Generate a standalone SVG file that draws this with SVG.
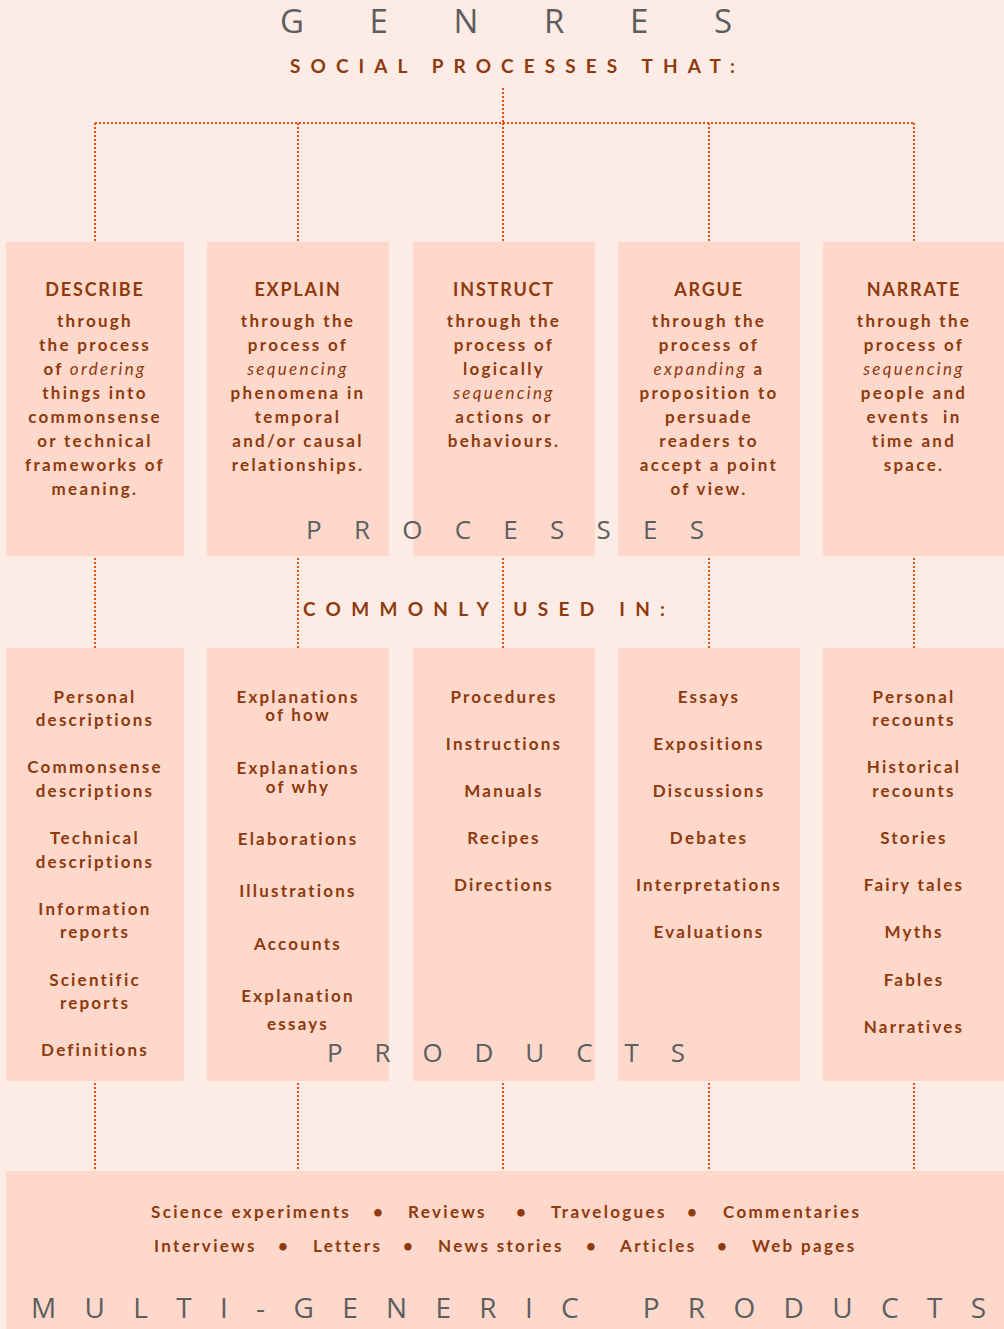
<svg xmlns="http://www.w3.org/2000/svg" width="1004" height="1329" viewBox="0 0 1004 1329">
  <style>
    .bg { fill: #fdebe5; }
    .box { fill: #fdd8cb; }
    .dot { fill: none; stroke: #f04a14; stroke-width: 2; stroke-dasharray: 2 2; }
    .head { font-family: Lato, "Open Sans", "DejaVu Sans", sans-serif; font-weight: 700; font-size: 18px; fill: #8e3a0d; text-anchor: middle; letter-spacing: 1.8px; }
    .body { font-family: Lato, "Open Sans", "DejaVu Sans", sans-serif; font-weight: 700; font-size: 17px; fill: #8e3a0d; text-anchor: middle; letter-spacing: 2.3px; }
    .it { font-style: italic; font-weight: 400; }
    .item { font-family: Lato, "Open Sans", "DejaVu Sans", sans-serif; font-weight: 700; font-size: 17px; fill: #8e3a0d; text-anchor: middle; letter-spacing: 2.2px; }
    .multi { font-family: Lato, "Open Sans", "DejaVu Sans", sans-serif; font-weight: 700; font-size: 17px; fill: #8e3a0d; letter-spacing: 2.35px; }
    .grey { font-family: "Open Sans", Lato, "DejaVu Sans", sans-serif; font-weight: 400; fill: #5e5e5e; }
    .spaced { font-family: Lato, "Open Sans", "DejaVu Sans", sans-serif; font-weight: 700; font-size: 19px; fill: #8e3a0d; }
  </style>

  <rect class="bg" x="0" y="0" width="1004" height="1329"/>

  <!-- headings -->
  <g id="title">
    <text class="grey" x="280" y="33" font-size="33" textLength="452" lengthAdjust="spacing">GENRES</text>
    <text class="spaced" x="290" y="73" textLength="445" lengthAdjust="spacing">SOCIAL PROCESSES THAT:</text>
  </g>

  <!-- connectors -->
  <g id="connectors">
    <path class="dot" d="M503 88 V123 M95 123 H914 M95 123 V242 M298 123 V242 M503 123 V242 M709 123 V242 M914 123 V242"/>
    <path class="dot" d="M95 558 V648 M298 558 V648 M503 558 V648 M709 558 V648 M914 558 V648"/>
    <path class="dot" d="M95 1083 V1171 M298 1083 V1171 M503 1083 V1171 M709 1083 V1171 M914 1083 V1171"/>
  </g>

  <!-- process boxes -->
  <g id="describe">
    <rect class="box" x="6" y="242" width="178" height="314"/>
    <text class="head" x="95" y="296">DESCRIBE</text>
    <text class="body" x="95" y="327">through</text>
    <text class="body" x="95" y="351">the process</text>
    <text class="body" x="95" y="375">of <tspan class="it">ordering</tspan></text>
    <text class="body" x="95" y="399">things into</text>
    <text class="body" x="95" y="423">commonsense</text>
    <text class="body" x="95" y="447">or technical</text>
    <text class="body" x="95" y="471">frameworks of</text>
    <text class="body" x="95" y="495">meaning.</text>
  </g>

  <g id="explain">
    <rect class="box" x="207" y="242" width="182" height="314"/>
    <text class="head" x="298" y="296">EXPLAIN</text>
    <text class="body" x="298" y="327">through the</text>
    <text class="body" x="298" y="351">process of</text>
    <text class="body it" x="298" y="375">sequencing</text>
    <text class="body" x="298" y="399">phenomena in</text>
    <text class="body" x="298" y="423">temporal</text>
    <text class="body" x="298" y="447">and/or causal</text>
    <text class="body" x="298" y="471">relationships.</text>
  </g>

  <g id="instruct">
    <rect class="box" x="413" y="242" width="182" height="314"/>
    <text class="head" x="504" y="296">INSTRUCT</text>
    <text class="body" x="504" y="327">through the</text>
    <text class="body" x="504" y="351">process of</text>
    <text class="body" x="504" y="375">logically</text>
    <text class="body it" x="504" y="399">sequencing</text>
    <text class="body" x="504" y="423">actions or</text>
    <text class="body" x="504" y="447">behaviours.</text>
  </g>

  <g id="argue">
    <rect class="box" x="618" y="242" width="182" height="314"/>
    <text class="head" x="709" y="296">ARGUE</text>
    <text class="body" x="709" y="327">through the</text>
    <text class="body" x="709" y="351">process of</text>
    <text class="body" x="709" y="375"><tspan class="it">expanding</tspan> a</text>
    <text class="body" x="709" y="399">proposition to</text>
    <text class="body" x="709" y="423">persuade</text>
    <text class="body" x="709" y="447">readers to</text>
    <text class="body" x="709" y="471">accept a point</text>
    <text class="body" x="709" y="495">of view.</text>
  </g>

  <g id="narrate">
    <rect class="box" x="823" y="242" width="181" height="314"/>
    <text class="head" x="914" y="296">NARRATE</text>
    <text class="body" x="914" y="327">through the</text>
    <text class="body" x="914" y="351">process of</text>
    <text class="body it" x="914" y="375">sequencing</text>
    <text class="body" x="914" y="399">people and</text>
    <text class="body" x="914" y="423" xml:space="preserve">events  in</text>
    <text class="body" x="914" y="447">time and</text>
    <text class="body" x="914" y="471">space.</text>
  </g>

  <g id="processes-label">
    <text class="grey" x="306" y="539" font-size="26" textLength="398" lengthAdjust="spacing">PROCESSES</text>
    <text class="spaced" x="303" y="616" textLength="362" lengthAdjust="spacing">COMMONLY USED IN:</text>
  </g>

  <!-- product boxes -->
  <g id="describe-products">
    <rect class="box" x="6" y="648" width="178" height="433"/>
    <text class="item" x="95" y="703">Personal</text>
    <text class="item" x="95" y="726">descriptions</text>
    <text class="item" x="95" y="773">Commonsense</text>
    <text class="item" x="95" y="797">descriptions</text>
    <text class="item" x="95" y="844">Technical</text>
    <text class="item" x="95" y="868">descriptions</text>
    <text class="item" x="95" y="915">Information</text>
    <text class="item" x="95" y="938">reports</text>
    <text class="item" x="95" y="986">Scientific</text>
    <text class="item" x="95" y="1009">reports</text>
    <text class="item" x="95" y="1056">Definitions</text>
  </g>

  <g id="explain-products">
    <rect class="box" x="207" y="648" width="182" height="433"/>
    <text class="item" x="298" y="703">Explanations</text>
    <text class="item" x="298" y="721">of how</text>
    <text class="item" x="298" y="774">Explanations</text>
    <text class="item" x="298" y="793">of why</text>
    <text class="item" x="298" y="845">Elaborations</text>
    <text class="item" x="298" y="897">Illustrations</text>
    <text class="item" x="298" y="950">Accounts</text>
    <text class="item" x="298" y="1002">Explanation</text>
    <text class="item" x="298" y="1030">essays</text>
  </g>

  <g id="instruct-products">
    <rect class="box" x="413" y="648" width="182" height="433"/>
    <text class="item" x="504" y="703">Procedures</text>
    <text class="item" x="504" y="750">Instructions</text>
    <text class="item" x="504" y="797">Manuals</text>
    <text class="item" x="504" y="844">Recipes</text>
    <text class="item" x="504" y="891">Directions</text>
  </g>

  <g id="argue-products">
    <rect class="box" x="618" y="648" width="182" height="433"/>
    <text class="item" x="709" y="703">Essays</text>
    <text class="item" x="709" y="750">Expositions</text>
    <text class="item" x="709" y="797">Discussions</text>
    <text class="item" x="709" y="844">Debates</text>
    <text class="item" x="709" y="891">Interpretations</text>
    <text class="item" x="709" y="938">Evaluations</text>
  </g>

  <g id="narrate-products">
    <rect class="box" x="823" y="648" width="181" height="433"/>
    <text class="item" x="914" y="703">Personal</text>
    <text class="item" x="914" y="726">recounts</text>
    <text class="item" x="914" y="773">Historical</text>
    <text class="item" x="914" y="797">recounts</text>
    <text class="item" x="914" y="844">Stories</text>
    <text class="item" x="914" y="891">Fairy tales</text>
    <text class="item" x="914" y="938">Myths</text>
    <text class="item" x="914" y="986">Fables</text>
    <text class="item" x="914" y="1033">Narratives</text>
  </g>

  <g id="products-label">
    <text class="grey" x="327" y="1062" font-size="26" textLength="358" lengthAdjust="spacing">PRODUCTS</text>
  </g>

  <!-- multi-generic products band -->
  <g id="multi-generic">
    <rect class="box" x="6" y="1171" width="998" height="158"/>
    <text class="multi" x="151" y="1218">Science experiments</text>
    <text class="multi" x="379" y="1218" text-anchor="middle">•</text>
    <text class="multi" x="408" y="1218">Reviews</text>
    <text class="multi" x="522" y="1218" text-anchor="middle">•</text>
    <text class="multi" x="551" y="1218">Travelogues</text>
    <text class="multi" x="693" y="1218" text-anchor="middle">•</text>
    <text class="multi" x="723" y="1218">Commentaries</text>
    <text class="multi" x="154" y="1252">Interviews</text>
    <text class="multi" x="284" y="1252" text-anchor="middle">•</text>
    <text class="multi" x="313" y="1252">Letters</text>
    <text class="multi" x="409" y="1252" text-anchor="middle">•</text>
    <text class="multi" x="438" y="1252">News stories</text>
    <text class="multi" x="592" y="1252" text-anchor="middle">•</text>
    <text class="multi" x="620" y="1252">Articles</text>
    <text class="multi" x="723" y="1252" text-anchor="middle">•</text>
    <text class="multi" x="752" y="1252">Web pages</text>
    <text class="grey" x="31" y="1318" font-size="28" textLength="955" lengthAdjust="spacing">MULTI-GENERIC PRODUCTS</text>
  </g>
</svg>
